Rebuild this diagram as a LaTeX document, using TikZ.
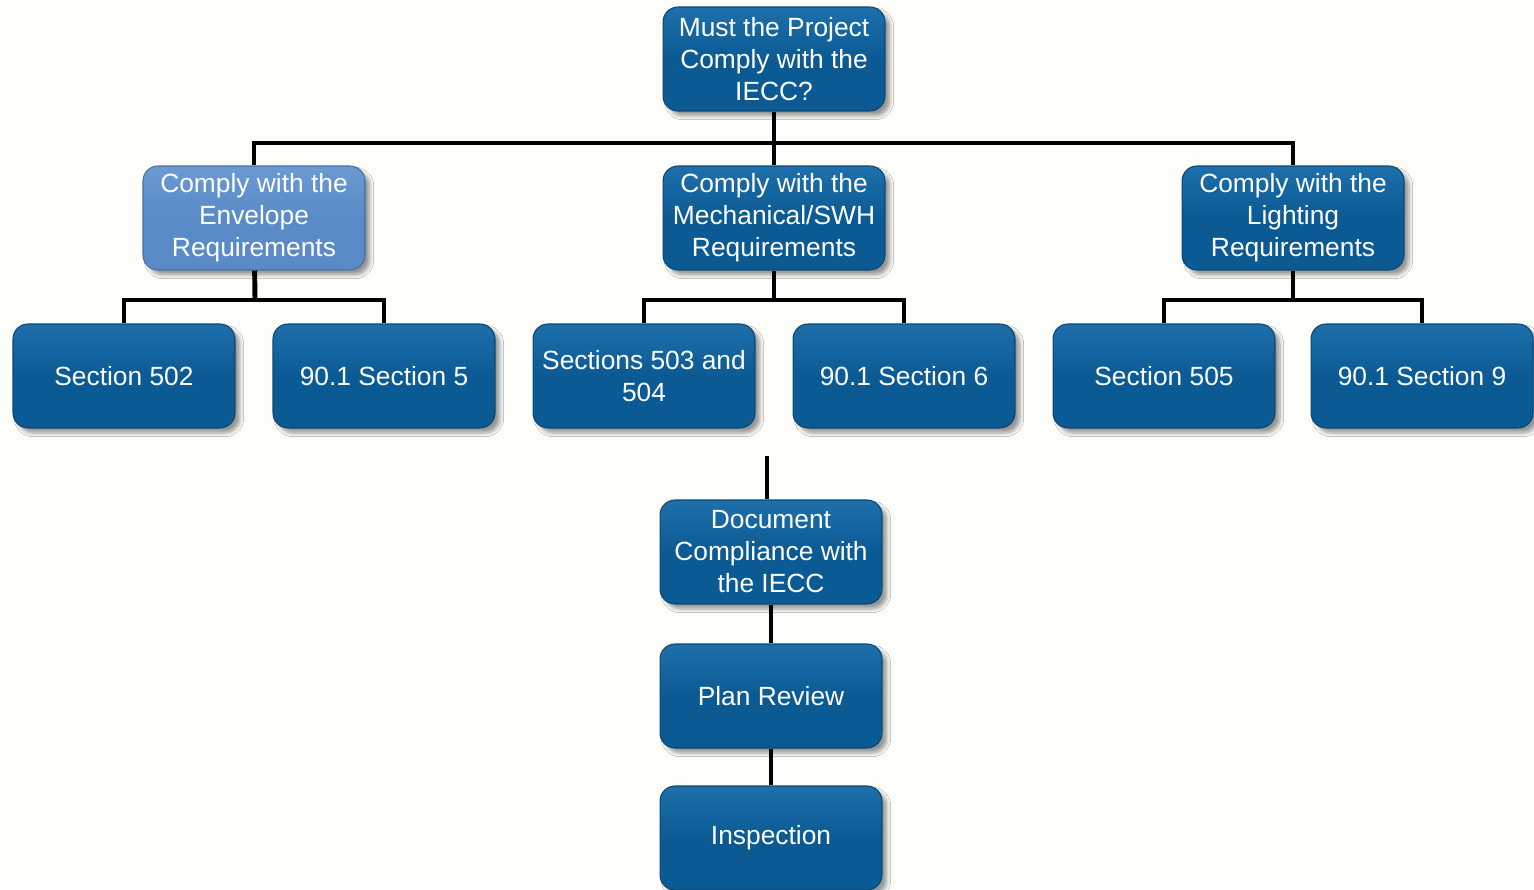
\documentclass[tikz,border=0pt]{standalone}
\usepackage{fontspec}
\setmainfont{Liberation Sans}
\usetikzlibrary{shadows.blur}
\definecolor{bg}{HTML}{FDFDF9}
\definecolor{boxblue}{HTML}{0B5A94}
\definecolor{boxtop}{HTML}{1E6FAA}
\definecolor{lightblue}{HTML}{5A8BC8}
\definecolor{lighttop}{HTML}{6B9AD2}
\tikzset{
  box/.style={rectangle, rounded corners=0.3cm, minimum width=4.44cm, minimum height=2.08cm,
    align=center, inner sep=0pt, text=white,
    font=\fontsize{15}{18.2}\selectfont,
    top color=boxtop, bottom color=boxblue, middle color=boxblue,
    draw=boxblue!80!black, line width=0.6pt,
    blur shadow={shadow xshift=0.1cm, shadow yshift=-0.1cm, shadow blur steps=6, shadow opacity=40}},
  lightbox/.style={box, top color=lighttop, bottom color=lightblue, middle color=lightblue, draw=lightblue!80!black},
  conn/.style={line width=2.8pt, black}
}
\begin{document}
\begin{tikzpicture}[x=0.02cm,y=-0.02cm]
\fill[bg] (0,0) rectangle (1534,889);
\useasboundingbox (0,0) rectangle (1534,889);
\node[box] (top) at (774,59) {Must the Project\\Comply with the\\IECC?};
\node[lightbox] (env) at (254,218) {Comply with the\\Envelope\\Requirements};
\node[box] (mech) at (774,218) {Comply with the\\Mechanical/SWH\\Requirements};
\node[box] (light) at (1293,218) {Comply with the\\Lighting\\Requirements};
\node[box] (s502) at (124,376) {Section 502};
\node[box] (s5) at (384,376) {90.1 Section 5};
\node[box] (s503) at (644,376) {Sections 503 and\\504};
\node[box] (s6) at (904,376) {90.1 Section 6};
\node[box] (s505) at (1164,376) {Section 505};
\node[box] (s9) at (1422,376) {90.1 Section 9};
\node[box] (doc) at (771,552) {Document\\Compliance with\\the IECC};
\node[box] (plan) at (771,696) {Plan Review};
\node[box] (insp) at (771,838) {Inspection};
\coordinate (b1) at (774,143);
\coordinate (b2) at (255,300);
\coordinate (b3) at (774,300);
\coordinate (b4) at (1293,300);
\coordinate (stub) at (767,456);
\draw[conn] (top) -- (b1);
\draw[conn] (env.north) -- (env.north |- b1) -- (light.north |- b1) -- (light.north);
\draw[conn] (b1) -- (mech.north);
\draw[conn] (env) -- (b2);
\draw[conn] (s502.north) -- (s502.north |- b2) -- (s5.north |- b2) -- (s5.north);
\draw[conn] (mech) -- (b3);
\draw[conn] (s503.north) -- (s503.north |- b3) -- (s6.north |- b3) -- (s6.north);
\draw[conn] (light) -- (b4);
\draw[conn] (s505.north) -- (s505.north |- b4) -- (s9.north |- b4) -- (s9.north);
\draw[conn] (stub) -- (stub |- doc.north);
\draw[conn] (doc) -- (plan);
\draw[conn] (plan) -- (insp);
\end{tikzpicture}
\end{document}
